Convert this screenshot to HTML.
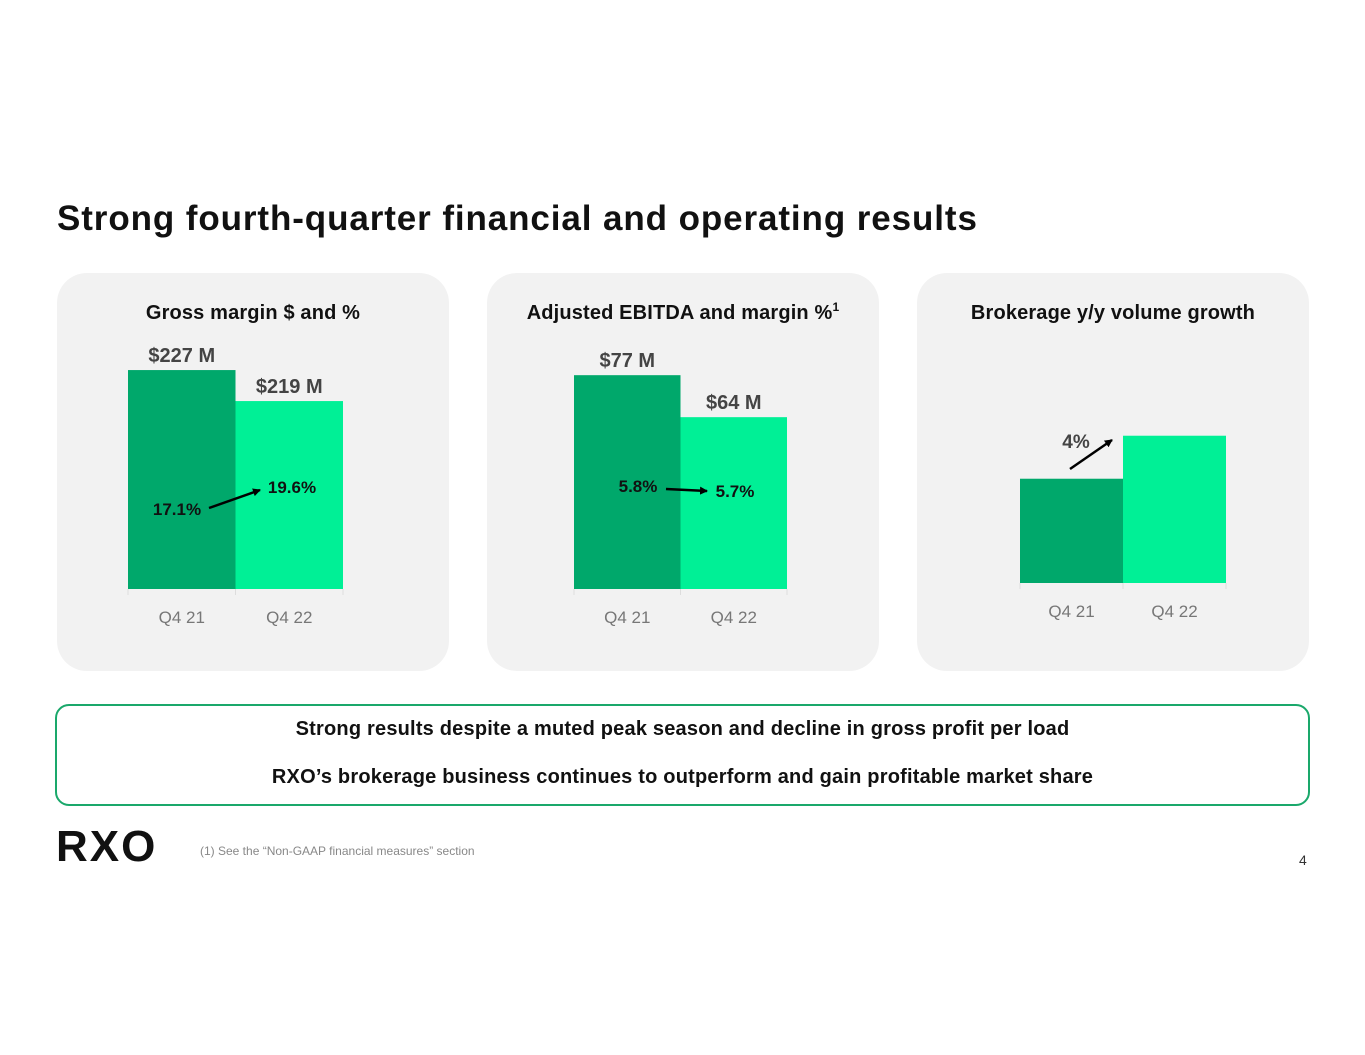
<!DOCTYPE html>
<html><head><meta charset="utf-8">
<style>
body{margin:0;background:#fff;font-family:"Liberation Sans",Arial,sans-serif;}
#wrap{position:relative;width:1365px;height:1055px;overflow:hidden;}
.t{position:absolute;white-space:nowrap;}
</style></head>
<body><div id="wrap">
<div class="t" style="left:57px;top:199px;font-size:35px;font-weight:bold;color:#111;letter-spacing:0.9px">Strong fourth-quarter financial and operating results</div>
<svg id="chart" width="1365" height="1055" style="position:absolute;left:0;top:0" font-family="Liberation Sans, Arial, sans-serif"></svg>
<div style="position:absolute;left:55px;top:704px;width:1251px;height:98px;border:2px solid #1aa86b;border-radius:14px;"></div>
<div class="t" style="left:0;width:1365px;text-align:center;top:718px;font-size:20px;font-weight:bold;color:#111;letter-spacing:0.2px">Strong results despite a muted peak season and decline in gross profit per load</div>
<div class="t" style="left:0;width:1365px;text-align:center;top:766px;font-size:20px;font-weight:bold;color:#111;letter-spacing:0.2px">RXO’s brokerage business continues to outperform and gain profitable market share</div>
<div class="t" style="left:56px;top:822px;font-size:44px;font-weight:900;color:#111;letter-spacing:2px">RXO</div>
<div class="t" style="left:200px;top:844px;font-size:12px;color:#888">(1) See the “Non-GAAP financial measures” section</div>
<div class="t" style="left:1299px;top:852px;font-size:14px;color:#333">4</div>
</div>
<script>
const categories = ["Q4 21","Q4 22"];
const grossMarginValues = [227, 219];
const grossMarginLabels = ["$227 M","$219 M"];
const grossMarginPct = ["17.1%","19.6%"];
const ebitdaValues = [77, 64];
const ebitdaLabels = ["$77 M","$64 M"];
const ebitdaPct = ["5.8%","5.7%"];
const volumeIndex = [100, 104];
const volumeGrowthLabel = "4%";

const NS="http://www.w3.org/2000/svg";
const svg=document.getElementById('chart');
function el(tag,attrs,parent){const e=document.createElementNS(NS,tag);for(const k in attrs)e.setAttribute(k,attrs[k]);(parent||svg).appendChild(e);return e;}
const defs=el('defs',{});
const mk=el('marker',{id:'ah',markerWidth:'8',markerHeight:'8',refX:'7',refY:'4',orient:'auto',markerUnits:'userSpaceOnUse'},defs);
el('path',{d:'M0,0 L8,4 L0,8 Z',fill:'#000'},mk);
const colors=["#00a86b","#00f096"];

const panels=[
 {x:57,title:"Gross margin $ and %",values:grossMarginValues,labels:grossMarginLabels,pct:grossMarginPct,x0:128,bw:107.5,base:589,v0:170.5,k:3.875},
 {x:487,title:"Adjusted EBITDA and margin %",sup:"1",values:ebitdaValues,labels:ebitdaLabels,pct:ebitdaPct,x0:574,bw:106.5,base:589,v0:10.8,k:3.23},
 {x:917,title:"Brokerage y/y volume growth",values:volumeIndex,x0:1020,bw:103,base:583,v0:90.3,k:10.75}
];
panels.forEach((p,pi)=>{
  const g=el('g',{});
  
  
  const r=el('rect',{x:p.x,y:273,width:392,height:398,rx:30,fill:'#f2f2f2'},g);
  
  
  const t=el('text',{x:p.x+196,y:319,'text-anchor':'middle','font-size':'20','font-weight':'bold',fill:'#111','letter-spacing':'0.15'},g);
  t.textContent=p.title;
  if(p.sup){const s=el('tspan',{'font-size':'12',dy:'-8'},t);s.textContent=p.sup;}
  
  
  const yOf=v=>p.base-(v-p.v0)*p.k;
  p.values.forEach((v,i)=>{
    const bx=p.x0+i*p.bw, y=yOf(v);
    const b=el('rect',{x:bx,y:y,width:p.bw,height:p.base-y,fill:colors[i]},g);
    
    
    const tk=el('line',{x1:bx,x2:bx,y1:p.base,y2:p.base+6,stroke:'#ddd'},g);
    
    
    const c=el('text',{x:bx+p.bw/2,y:p.base+34,'text-anchor':'middle','font-size':'17',fill:'#777'},g);
    c.textContent=categories[i];
    
    
    if(p.labels){
      const l=el('text',{x:bx+p.bw/2,y:y-8,'text-anchor':'middle','font-size':'20','font-weight':'bold',fill:'#444'},g);
      l.textContent=p.labels[i];
      
      
    }
  });
  el('line',{x1:p.x0+2*p.bw,x2:p.x0+2*p.bw,y1:p.base,y2:p.base+6,stroke:'#ddd'},g);
  if(pi===0){
    const a=el('text',{x:177,y:515,'text-anchor':'middle','font-size':'17','font-weight':'bold',fill:'#111'},g);a.textContent=p.pct[0];
    
    const b=el('text',{x:292,y:493,'text-anchor':'middle','font-size':'17','font-weight':'bold',fill:'#111'},g);b.textContent=p.pct[1];
    
    const ar=el('line',{x1:209,y1:508,x2:260,y2:490,stroke:'#000','stroke-width':'2.5','marker-end':'url(#ah)'},g);
    
  } else if(pi===1){
    const a=el('text',{x:638,y:492,'text-anchor':'middle','font-size':'17','font-weight':'bold',fill:'#111'},g);a.textContent=p.pct[0];
    
    const b=el('text',{x:735,y:497,'text-anchor':'middle','font-size':'17','font-weight':'bold',fill:'#111'},g);b.textContent=p.pct[1];
    
    const ar=el('line',{x1:666,y1:489,x2:707,y2:491,stroke:'#000','stroke-width':'2.5','marker-end':'url(#ah)'},g);
    
  } else {
    const a=el('text',{x:1076,y:448,'text-anchor':'middle','font-size':'19','font-weight':'bold',fill:'#444'},g);a.textContent=volumeGrowthLabel;
    
    const ar=el('line',{x1:1070,y1:469,x2:1112,y2:440,stroke:'#000','stroke-width':'2.5','marker-end':'url(#ah)'},g);
    
  }
});
</script>
</body></html>
